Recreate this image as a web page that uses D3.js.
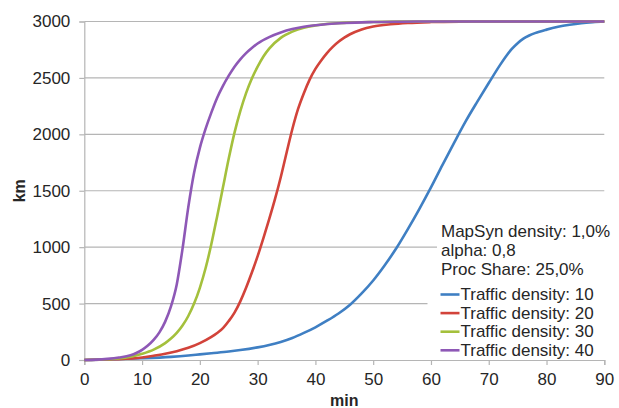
<!DOCTYPE html>
<html>
<head>
<meta charset="utf-8">
<script src="https://cdn.jsdelivr.net/npm/d3@7"></script>
<style>
  html, body { margin: 0; padding: 0; background: #ffffff; }
  svg { display: block; font-family: "Liberation Sans", Arial, sans-serif; }
</style>
</head>
<body>
<svg id="chart" width="619" height="408"></svg>
<script>
// Travel time (min) vs. distance covered (km) for four traffic densities
const times10 = [0, 5, 10, 15, 18, 20, 22, 25, 27, 30, 32, 34, 36, 38, 40, 42, 44, 46, 48, 50, 52, 54, 56, 58, 60, 62, 64, 66, 68, 70, 72, 73, 74, 75, 76, 77, 78, 80, 82, 84, 86, 88, 90];
const km10    = [0, 6, 15, 28, 40, 50, 60, 75, 88, 112, 133, 160, 195, 240, 290, 348, 412, 490, 590, 705, 840, 990, 1160, 1340, 1530, 1730, 1925, 2115, 2288, 2455, 2618, 2692, 2757, 2808, 2848, 2876, 2897, 2928, 2953, 2971, 2985, 2994, 3000];

const times20 = [0, 5, 10, 12, 14, 16, 18, 20, 22, 23, 24, 25, 26, 27, 28, 29, 30, 31, 32, 33, 34, 35, 36, 37, 38, 39, 40, 41, 42, 43, 44, 45, 46, 48, 50, 53, 56, 60, 65, 70, 80, 90];
const km20    = [0, 6, 22, 38, 55, 78, 108, 150, 205, 240, 282, 345, 420, 520, 640, 775, 920, 1080, 1248, 1425, 1620, 1835, 2045, 2225, 2365, 2485, 2580, 2655, 2720, 2775, 2820, 2857, 2887, 2930, 2955, 2975, 2987, 2995, 2999, 3000, 3000, 3000];

const times30 = [0, 2, 4, 6, 8, 10, 12, 14, 15, 16, 17, 18, 19, 20, 21, 22, 23, 24, 25, 26, 27, 28, 29, 30, 31, 32, 34, 36, 38, 40, 45, 50, 55, 60, 70, 80, 90];
const km30    = [0, 2, 6, 13, 28, 55, 92, 150, 190, 240, 305, 390, 500, 640, 815, 1030, 1275, 1530, 1785, 2015, 2205, 2365, 2495, 2600, 2690, 2760, 2855, 2910, 2945, 2965, 2988, 2996, 2999, 3000, 3000, 3000, 3000];

const times40 = [0, 2, 4, 6, 8, 9, 10, 11, 12, 13, 14, 15, 16, 17, 18, 19, 20, 21, 22, 23, 24, 25, 26, 27, 28, 29, 30, 32, 34, 36, 38, 40, 45, 50, 55, 60, 70, 80, 90];
const km40    = [0, 3, 10, 22, 42, 62, 90, 128, 178, 245, 340, 475, 670, 985, 1355, 1660, 1880, 2050, 2195, 2325, 2430, 2520, 2600, 2665, 2720, 2765, 2805, 2862, 2903, 2933, 2953, 2967, 2987, 2995, 2998, 3000, 3000, 3000, 3000];

const seriesNames  = ["Traffic density: 10", "Traffic density: 20", "Traffic density: 30", "Traffic density: 40"];
const seriesColors = ["#3f7fc3", "#d2433a", "#a4c03c", "#8e58b6"];
const noteLines    = ["MapSyn density: 1,0%", "alpha: 0,8", "Proc Share: 25,0%"];
const xTicks = [0, 10, 20, 30, 40, 50, 60, 70, 80, 90];
const yTicks = [0, 500, 1000, 1500, 2000, 2500, 3000];

const series = [
  { name: seriesNames[0], color: seriesColors[0], t: times10, v: km10 },
  { name: seriesNames[1], color: seriesColors[1], t: times20, v: km20 },
  { name: seriesNames[2], color: seriesColors[2], t: times30, v: km30 },
  { name: seriesNames[3], color: seriesColors[3], t: times40, v: km40 }
];

const svg = d3.select("#chart");
const plotLeft = 84.3, plotRight = 604.3, plotTop = 21.5, plotBottom = 360;
const x = d3.scaleLinear().domain([0, 90]).range([plotLeft, plotRight]);
const y = d3.scaleLinear().domain([0, 3000]).range([plotBottom, plotTop]);

const gridColor = "#b5b5b5";
const textColor = "#262626";
const labelSize = 17;

// horizontal gridlines
svg.append("g").selectAll("line").data(yTicks.filter(d => d > 0)).join("line")
  .attr("x1", plotLeft).attr("x2", plotRight)
  .attr("y1", d => y(d)).attr("y2", d => y(d))
  .attr("stroke", gridColor).attr("stroke-width", 1.2);

// y axis
const yAxis = svg.append("g")
  .attr("transform", `translate(${plotLeft},0)`)
  .call(d3.axisLeft(y).tickValues(yTicks).tickSize(5).tickPadding(9).tickFormat(d3.format("d")));
yAxis.select(".domain").attr("stroke", gridColor).attr("stroke-width", 1.2);
yAxis.selectAll(".tick line").attr("stroke", gridColor).attr("stroke-width", 1.2);
yAxis.selectAll(".tick text").attr("fill", textColor).attr("font-size", labelSize)
  .attr("font-family", "Liberation Sans, Arial, sans-serif");

// x axis
const xAxis = svg.append("g")
  .attr("transform", `translate(0,${plotBottom})`)
  .call(d3.axisBottom(x).tickValues(xTicks).tickSize(5).tickPadding(8).tickFormat(d3.format("d")));
xAxis.select(".domain").attr("stroke", gridColor).attr("stroke-width", 1.2);
xAxis.selectAll(".tick line").attr("stroke", gridColor).attr("stroke-width", 1.2);
xAxis.selectAll(".tick text").attr("fill", textColor).attr("font-size", labelSize)
  .attr("font-family", "Liberation Sans, Arial, sans-serif");

// series lines
const line = d3.line()
  .x(d => x(d[0]))
  .y(d => y(d[1]))
  .curve(d3.curveMonotoneX);

svg.append("g").selectAll("path").data(series).join("path")
  .attr("fill", "none")
  .attr("stroke", d => d.color)
  .attr("stroke-width", 2.6)
  .attr("stroke-linejoin", "round")
  .attr("d", d => line(d.t.map((t, i) => [t, d.v[i]])));

// axis titles
svg.append("text")
  .attr("x", (plotLeft + plotRight) / 2).attr("y", 406)
  .attr("text-anchor", "middle")
  .attr("font-size", 16).attr("font-weight", "bold").attr("fill", textColor)
  .text("min");
svg.append("text")
  .attr("transform", `translate(25,${(plotTop + plotBottom) / 2}) rotate(-90)`)
  .attr("text-anchor", "middle")
  .attr("font-size", 16).attr("font-weight", "bold").attr("fill", textColor)
  .text("km");

// parameter note box
svg.append("rect").attr("x", 437).attr("y", 219).attr("width", 182).attr("height", 62).attr("fill", "#ffffff");
svg.append("g").selectAll("text").data(noteLines).join("text")
  .attr("x", 441).attr("y", (d, i) => 237 + i * 19)
  .attr("font-size", labelSize).attr("fill", textColor)
  .text(d => d);

// legend
svg.append("rect").attr("x", 427.5).attr("y", 283).attr("width", 191).attr("height", 75).attr("fill", "#ffffff");
const legend = svg.append("g").selectAll("g").data(series).join("g")
  .attr("transform", (d, i) => `translate(440.5,${300 + i * 18.6})`);
legend.append("line")
  .attr("x1", 0).attr("x2", 19).attr("y1", -5.5).attr("y2", -5.5)
  .attr("stroke", d => d.color).attr("stroke-width", 2.6);
legend.append("text")
  .attr("x", 20).attr("y", 0)
  .attr("font-size", labelSize).attr("fill", textColor)
  .text(d => d.name);
</script>
</body>
</html>
